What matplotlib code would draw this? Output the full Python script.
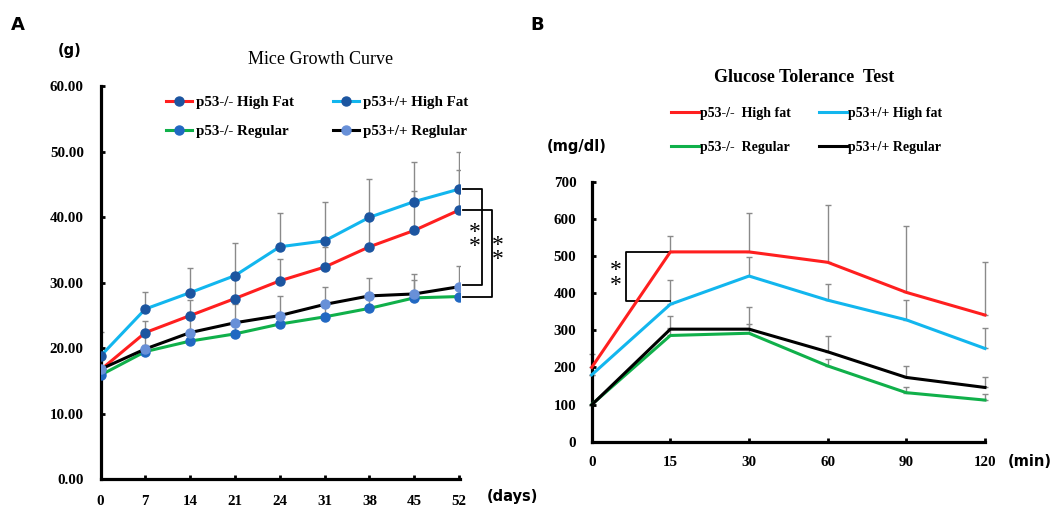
import numpy as np
import matplotlib
matplotlib.use("Agg")
import matplotlib.pyplot as plt

# ---- data: growth curve (g) ----
days = ["0", "7", "14", "21", "24", "31", "38", "45", "52"]
ko_hf = [16.7, 22.4, 25.0, 27.6, 30.3, 32.4, 35.5, 38.0, 41.1]
wt_hf = [18.8, 26.0, 28.5, 31.1, 35.5, 36.4, 40.0, 42.4, 44.3]
ko_reg = [15.9, 19.5, 21.1, 22.2, 23.7, 24.8, 26.1, 27.7, 27.9]
wt_reg = [16.8, 19.9, 22.4, 23.9, 25.0, 26.7, 28.0, 28.3, 29.4]
ko_hf_err = [0.0, 1.7, 2.3, 3.0, 3.4, 3.0, 5.2, 6.0, 6.1]
wt_hf_err = [3.7, 2.6, 3.8, 5.0, 5.2, 6.0, 5.9, 6.0, 5.6]
ko_reg_err = [0.0, 1.0, 1.2, 1.2, 1.5, 1.5, 1.8, 2.8, 1.5]
wt_reg_err = [0.0, 2.0, 3.2, 2.9, 3.0, 2.7, 2.8, 3.0, 3.2]

# ---- data: glucose tolerance (mg/dl) ----
minutes = ["0", "15", "30", "60", "90", "120"]
g_ko_hf = [200, 511, 511, 483, 402, 341]
g_wt_hf = [180, 370, 446, 381, 328, 251]
g_ko_reg = [100, 286, 292, 204, 132, 112]
g_wt_reg = [99, 303, 303, 242, 173, 146]
g_ko_hf_err = [35, 43, 104, 154, 179, 142]
g_wt_hf_err = [0, 65, 52, 43, 53, 54]
g_ko_reg_err = [0, 20, 24, 20, 16, 16]
g_wt_reg_err = [0, 36, 59, 43, 31, 27]

RED = "#ff1f1f"
CYAN = "#12b6ee"
GREEN = "#10b04a"
BLACK = "#000000"
GREY = "#8a8a8a"

serif = "Liberation Serif"
sans = "DejaVu Sans"

W, H = 1056, 507
fig = plt.figure(figsize=(W / 100, H / 100), dpi=100)


def px(x, y):
    return x / W, 1 - y / H


def style_axes(ax, pad_y, pad_x):
    for s in ["top", "right"]:
        ax.spines[s].set_visible(False)
    for s in ["left", "bottom"]:
        ax.spines[s].set_linewidth(2.3)
    ax.tick_params(direction="in", length=3, width=2, pad=pad_y, axis="y")
    ax.tick_params(direction="in", length=3, width=2, pad=pad_x, axis="x")
    for lab in ax.get_xticklabels() + ax.get_yticklabels():
        lab.set_fontfamily(serif)
        lab.set_fontweight("bold")
        lab.set_fontsize(10.8)


def stars(ax, x, y):
    ax.text(x, y, "*\n*", ha="center", va="center", fontsize=17,
            linespacing=0.6, family=serif)


# ================= Panel A =================
axA = fig.add_axes([100.5 / W, 1 - 479.3 / H, 359.5 / W, 393 / H])
xa = np.arange(len(days))
seriesA = [
    (ko_hf, ko_hf_err, RED, "#1c55a0", "p53-/- High Fat"),
    (wt_hf, wt_hf_err, CYAN, "#1c55a0", "p53+/+ High Fat"),
    (ko_reg, ko_reg_err, GREEN, "#2168c2", "p53-/- Regular"),
    (wt_reg, wt_reg_err, BLACK, "#6890d8", "p53+/+ Reglular"),
]
handlesA = {}
for y, e, c, mc, lab in seriesA:
    axA.errorbar(xa, y, yerr=[np.zeros(len(e)), e], fmt="none", ecolor=GREY,
                 elinewidth=1, capsize=2.5, capthick=1, zorder=1)
    h, = axA.plot(xa, y, color=c, lw=2.2, marker="o", ms=6.5, mfc=mc, mec=mc,
                  zorder=3, label=lab)
    handlesA[lab] = h
axA.set_xlim(0, 8.02)
axA.set_ylim(0, 60)
axA.set_xticks(xa)
axA.set_xticklabels(days)
axA.set_yticks(np.arange(0, 61, 10))
axA.set_yticklabels(["%.2f" % v for v in np.arange(0, 61, 10)])
style_axes(axA, 12, 11)

order = ["p53-/- High Fat", "p53-/- Regular", "p53+/+ High Fat", "p53+/+ Reglular"]
axA.legend([handlesA[k] for k in order], order, ncol=2, frameon=False,
           loc="upper left", bbox_to_anchor=(0.145, 1.01),
           prop={"family": serif, "weight": "bold", "size": 10.8},
           handlelength=1.7, columnspacing=2.6, labelspacing=1.0,
           handletextpad=0.3)

# significance brackets
kw = dict(color=BLACK, lw=1.3, clip_on=False)
axA.plot([8.09, 8.52, 8.52, 8.09], [wt_hf[-1], wt_hf[-1], wt_reg[-1] + 0.3, wt_reg[-1] + 0.3], **kw)
axA.plot([8.09, 8.73, 8.73, 8.09], [ko_hf[-1], ko_hf[-1], ko_reg[-1], ko_reg[-1]], **kw)
stars(axA, 8.36, 36.6)
stars(axA, 8.86, 34.6)

fig.text(*px(321, 60), "Mice Growth Curve", ha="center", va="center",
         family=serif, fontsize=13)
fig.text(*px(70, 51), "(g)", ha="center", va="center", family=sans,
         fontsize=10.5, weight="bold")
fig.text(*px(512, 496), "(days)", ha="center", va="center", family=sans,
         fontsize=10.5, weight="bold")
fig.text(*px(18, 25), "A", ha="center", va="center", family=sans,
         fontsize=13, weight="bold")

# ================= Panel B =================
axB = fig.add_axes([591.7 / W, 1 - 441.7 / H, 393.3 / W, 260 / H])
xb = np.arange(len(minutes))
seriesB = [
    (g_ko_hf, g_ko_hf_err, RED, "p53-/-  High fat"),
    (g_wt_hf, g_wt_hf_err, CYAN, "p53+/+ High fat"),
    (g_ko_reg, g_ko_reg_err, GREEN, "p53-/-  Regular"),
    (g_wt_reg, g_wt_reg_err, BLACK, "p53+/+ Regular"),
]
handlesB = {}
for y, e, c, lab in seriesB:
    eb = axB.errorbar(xb, y, yerr=[np.zeros(len(e)), e], fmt="none", ecolor=GREY,
                      elinewidth=1, capsize=2.5, capthick=1, zorder=1)
    for art in eb.lines[1] + eb.lines[2]:
        art.set_clip_on(False)
    h, = axB.plot(xb, y, color=c, lw=2.2, zorder=3, label=lab, clip_on=False)
    handlesB[lab] = h
axB.set_xlim(0, 5)
axB.set_ylim(0, 700)
axB.set_xticks(xb)
axB.set_xticklabels(minutes)
axB.set_yticks(np.arange(0, 701, 100))
style_axes(axB, 11, 10)

orderB = ["p53-/-  High fat", "p53-/-  Regular", "p53+/+ High fat", "p53+/+ Regular"]
axB.legend([handlesB[k] for k in orderB], orderB, ncol=2, frameon=False,
           loc="lower left", bbox_to_anchor=(0.17, 1.06),
           prop={"family": serif, "weight": "bold", "size": 10},
           handlelength=2.0, columnspacing=2.0, labelspacing=1.5,
           handletextpad=0.1)

axB.plot([1, 0.43, 0.43, 1], [g_ko_hf[1], g_ko_hf[1], 379, 379],
         color=BLACK, lw=1.3, clip_on=False, zorder=2)
stars(axB, 0.30, 440)

fig.text(*px(804, 78), "Glucose Tolerance  Test", ha="center", va="center",
         family=serif, fontsize=13, weight="bold")
fig.text(*px(577, 147), "(mg/dl)", ha="center", va="center", family=sans,
         fontsize=10.5, weight="bold")
fig.text(*px(1030, 462), "(min)", ha="center", va="center", family=sans,
         fontsize=10.5, weight="bold")
fig.text(*px(537, 25), "B", ha="center", va="center", family=sans,
         fontsize=13, weight="bold")

fig.savefig("out.png", dpi=100)
